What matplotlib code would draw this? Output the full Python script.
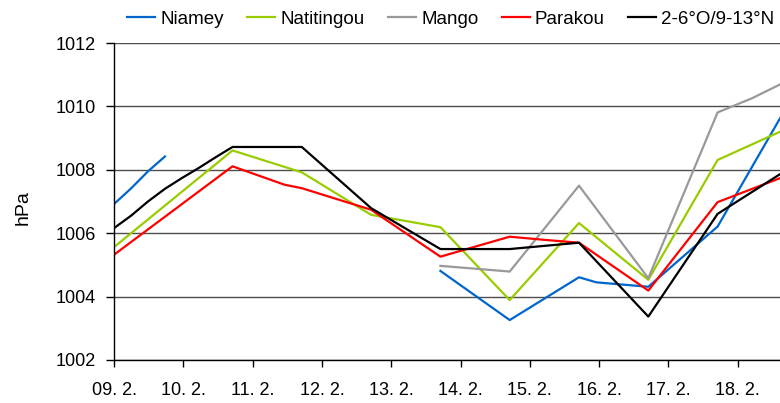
import matplotlib.pyplot as plt
import numpy as np

plt.rcParams['font.family'] = ['Liberation Sans', 'DejaVu Sans']

# time axis in days after 09.2. 00 UTC
day_labels = ['09. 2.', '10. 2.', '11. 2.', '12. 2.', '13. 2.',
              '14. 2.', '15. 2.', '16. 2.', '17. 2.', '18. 2.']

niamey_t = [0, 0.245, 0.49, 0.735, np.nan, 4.71, 5.71, 6.71, 6.96, 7.71, 8.71, 9.71]
niamey_p = [1006.92, 1007.41, 1007.95, 1008.42, np.nan, 1004.81, 1003.26, 1004.61,
            1004.45, 1004.31, 1006.21, 1010.0]

natitingou_t = [0, 1.71, 2.71, 3.71, 4.71, 5.71, 6.71, 7.71, 8.71, 9.71]
natitingou_p = [1005.56, 1008.61, 1007.92, 1006.58, 1006.19, 1003.89, 1006.32,
                1004.53, 1008.31, 1009.3]

mango_t = [4.71, 5.71, 6.71, 7.71, 8.71, 9.21, 9.71]
mango_p = [1004.97, 1004.79, 1007.5, 1004.58, 1009.81, 1010.26, 1010.8]

parakou_t = [0, 1.71, 2.46, 2.71, 3.71, 4.71, 5.71, 6.21, 6.71, 7.71, 8.71, 9.71]
parakou_p = [1005.32, 1008.11, 1007.53, 1007.42, 1006.74, 1005.26, 1005.89, 1005.79,
             1005.7, 1004.19, 1006.98, 1007.82]

area_t = [0, 0.245, 0.49, 0.735, 0.98, 1.225, 1.47, 1.71, 1.96, 2.21, 2.46, 2.71,
          3.71, 4.71, 5.71, 6.71, 7.71, 8.71, 9.71]
area_p = [1006.16, 1006.55, 1007.0, 1007.4, 1007.74, 1008.06, 1008.4, 1008.72,
          1008.72, 1008.72, 1008.72, 1008.72, 1006.79, 1005.5, 1005.5, 1005.7,
          1003.37, 1006.61, 1008.0]

fig = plt.figure(figsize=(7.8, 4.03), dpi=100)
ax = fig.add_axes([114/780, 43/403, 1 - 114/780, 317/403])

ax.plot(niamey_t, niamey_p, color='#0066cc', lw=1.6, label='Niamey')
ax.plot(natitingou_t, natitingou_p, color='#99cc00', lw=1.6, label='Natitingou')
ax.plot(mango_t, mango_p, color='#999999', lw=1.6, label='Mango')
ax.plot(parakou_t, parakou_p, color='#ff0000', lw=1.6, label='Parakou')
ax.plot(area_t, area_p, color='#000000', lw=1.6, label='2-6°O/9-13°N')

ax.set_xlim(0, 666/69.3)
ax.set_ylim(1002, 1012)
ax.set_yticks(np.arange(1002, 1013, 2))
ax.set_xticks(range(len(day_labels)))
ax.set_xticklabels(day_labels)
ax.grid(axis='y', color='#4d4d4d', lw=1)
ax.set_axisbelow(True)

for s in ['top', 'right']:
    ax.spines[s].set_visible(False)
ax.spines['left'].set_linewidth(1)
ax.spines['bottom'].set_linewidth(1)
ax.tick_params(axis='y', direction='out', length=6, width=1, pad=7, labelsize=13)
ax.tick_params(axis='x', direction='out', length=5, width=1, pad=11, labelsize=13)
ax.set_ylabel('hPa', fontsize=14)
ax.yaxis.set_label_coords(-0.123, 0.48)

fig.legend(loc='center', bbox_to_anchor=(0.578, 0.952), ncol=5, frameon=False,
           fontsize=13.5, handlelength=1.5, handletextpad=0.27, columnspacing=1.25)

fig.savefig('out.png', dpi=100)
